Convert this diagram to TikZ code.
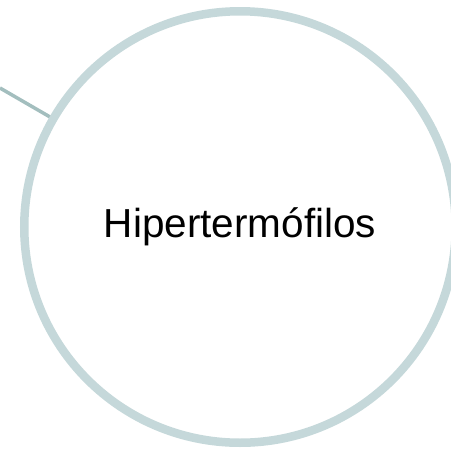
\documentclass[tikz,border=0pt]{standalone}
\usepackage{fontspec}
\setmainfont{Liberation Sans}
\usetikzlibrary{shadows}
\definecolor{ringblue}{HTML}{C5D8DA}
\definecolor{linkteal}{HTML}{A3BEBE}
\definecolor{shadowgray}{HTML}{808080}

\begin{document}
\begin{tikzpicture}[
    x=1pt, y=-1pt,
    bubble/.style={circle, draw=ringblue, line width=8.5pt, fill=white, minimum size=431.5pt, inner sep=0pt, align=center, font=\fontsize{40.5}{48}\selectfont, text=black,
        drop shadow={shadow xshift=1.5pt, shadow yshift=-3pt, opacity=0.45, fill=shadowgray}},
    link/.style={draw=linkteal, line width=3.5pt},
]
\useasboundingbox (0,0) rectangle (451,451);

% --- Outer bubble ---
\node[bubble] (hyper) at (240,227) {Hipertermófilos};

% --- Connector from the left ---
\coordinate (lend) at (0,88);
\draw[link] (lend) -- (hyper);

\end{tikzpicture}
\end{document}
